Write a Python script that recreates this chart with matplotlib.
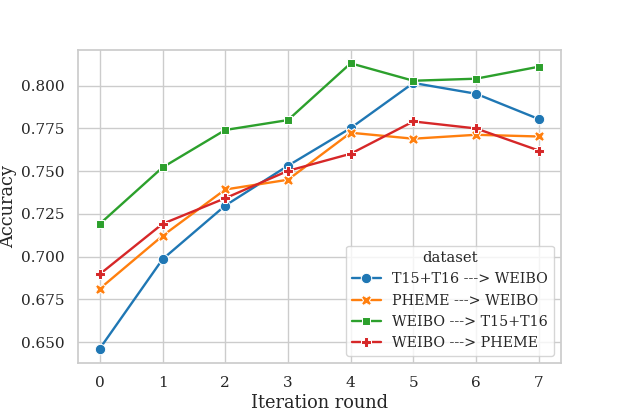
import numpy as np
import pandas as pd
import matplotlib
matplotlib.use("Agg")
import matplotlib.pyplot as plt
import seaborn as sns

# values
rounds = [0, 1, 2, 3, 4, 5, 6, 7]
t15t16_weibo = [0.6463, 0.6985, 0.7299, 0.7532, 0.7752, 0.8016, 0.7953, 0.7805]
pheme_weibo = [0.6813, 0.7122, 0.7393, 0.7450, 0.7725, 0.7690, 0.7713, 0.7703]
weibo_t15t16 = [0.7192, 0.7522, 0.7741, 0.7799, 0.8131, 0.8029, 0.8041, 0.8111]
weibo_pheme = [0.6898, 0.7192, 0.7342, 0.7502, 0.7602, 0.7791, 0.7750, 0.7621]
names = ["T15+T16 ---> WEIBO", "PHEME ---> WEIBO",
         "WEIBO ---> T15+T16", "WEIBO ---> PHEME"]

series = [t15t16_weibo, pheme_weibo, weibo_t15t16, weibo_pheme]
df = pd.concat([
    pd.DataFrame({"Iteration round": rounds, "Accuracy": vals, "dataset": name})
    for name, vals in zip(names, series)
])

sns.set_theme(style="whitegrid", font="serif")
plt.rcParams["font.family"] = ["DejaVu Serif"]

fig, ax = plt.subplots(figsize=(6.23, 4.15), dpi=100)
sns.lineplot(data=df, x="Iteration round", y="Accuracy", hue="dataset",
             style="dataset", markers=True, dashes=False, palette="tab10",
             linewidth=1.7, markersize=7.5, ax=ax)
ax.set_ylim(0.638, 0.821)
ax.set_xticks(rounds)
ax.tick_params(labelsize=11)
ax.set_xlabel("Iteration round", fontsize=12.8, labelpad=3)
ax.set_ylabel("Accuracy", fontsize=12.8, labelpad=3)
ax.legend(title="dataset", loc="lower right", fontsize=10.3,
          title_fontsize=10.6, handlelength=2.0)
fig.subplots_adjust(left=0.125, right=0.9, top=0.88, bottom=0.126)
fig.savefig("out.png")
